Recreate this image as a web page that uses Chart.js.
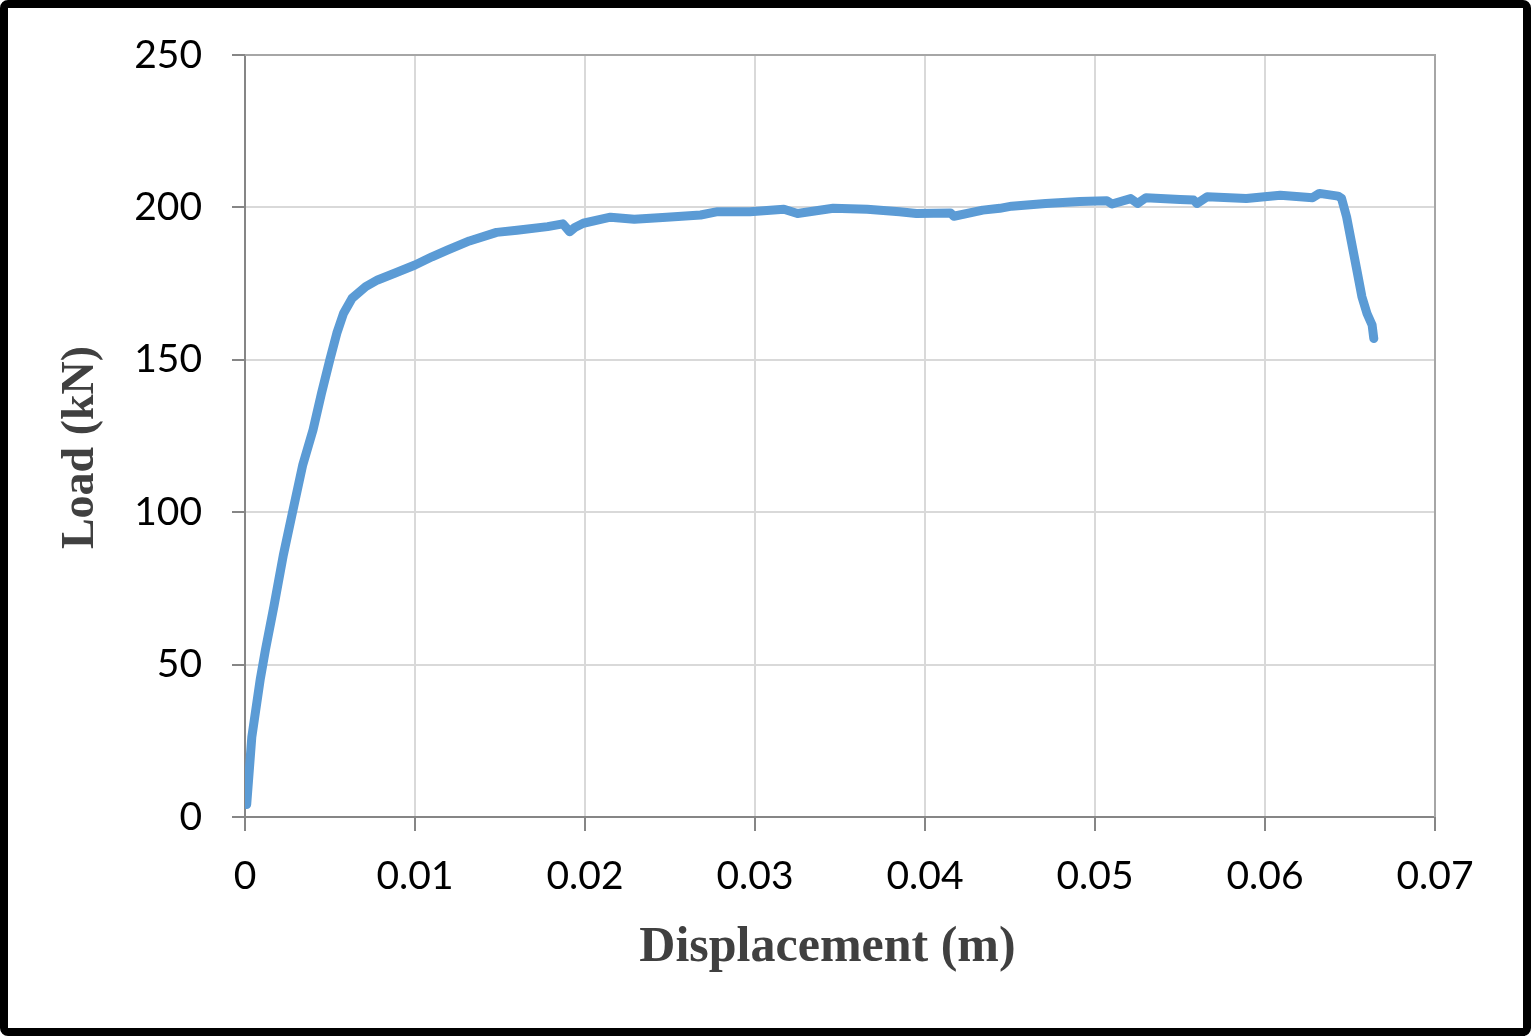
<!DOCTYPE html>
<html>
<head>
<meta charset="utf-8">
<script src="https://cdn.jsdelivr.net/npm/chart.js@4.4.1/dist/chart.umd.min.js"></script>
<style>
  html, body { margin: 0; padding: 0; background: #fff; }
  #myChart { position: absolute; left: 0; top: 0; display: block; }
  #frame {
    position: absolute; left: 0; top: 0;
    width: 1531px; height: 1036px;
    box-sizing: border-box;
    border: 8px solid #000;
    border-radius: 8px;
    pointer-events: none;
  }
</style>
</head>
<body>
<canvas id="myChart" width="1531" height="1036"></canvas>
<div id="frame"></div>
<script>
// displacement (m) and load (kN)
let displacement = [
  0.0001, 0.0004, 0.0009, 0.0012, 0.0017, 0.00225, 0.0028, 0.0034, 0.0040, 0.0045,
  0.0050, 0.0054, 0.0058, 0.0063, 0.0071, 0.0078, 0.0088, 0.0100, 0.0110, 0.0119,
  0.0132, 0.0148, 0.0160, 0.0178, 0.0187, 0.0191, 0.0194, 0.0199, 0.0215, 0.0229,
  0.0248, 0.0268, 0.0278, 0.0297, 0.0317, 0.0325, 0.0346, 0.0366, 0.0385, 0.0395,
  0.0415, 0.0417, 0.0434, 0.0444, 0.0451, 0.0471, 0.0491, 0.0507, 0.0510, 0.0521,
  0.0525, 0.0530, 0.0550, 0.0558, 0.0560, 0.0566, 0.0589, 0.0609, 0.0628, 0.0632,
  0.0643, 0.0645, 0.0648, 0.0651, 0.0654, 0.0657, 0.0660, 0.0663, 0.0664
]
let load = [
  4.1, 26.2, 45.3, 54.8, 69.1, 85.8, 100.1, 115.6, 127.0, 139.0,
  150.2, 158.7, 165.3, 170.2, 174.0, 176.2, 178.4, 181.1, 183.8, 186.0,
  189.0, 191.8, 192.5, 193.7, 194.6, 192.0, 193.4, 194.8, 196.8, 196.1,
  196.8, 197.5, 198.6, 198.6, 199.4, 198.0, 199.7, 199.4, 198.6, 198.0,
  198.2, 197.1, 199.1, 199.7, 200.4, 201.3, 201.9, 202.2, 201.1, 202.9,
  201.3, 203.2, 202.6, 202.4, 201.3, 203.5, 202.9, 204.0, 203.2, 204.6,
  203.7, 203.0, 196.9, 188.2, 179.5, 170.7, 165.2, 161.4, 157.0
]
let xTicks = [0, 0.01, 0.02, 0.03, 0.04, 0.05, 0.06, 0.07]
let yTicks = [0, 50, 100, 150, 200, 250]

let points = displacement.map((d, i) => ({ x: d, y: load[i] }))

// top and right edges of the plot box
let plotBorder = {
  id: 'plotBorder',
  beforeDatasetsDraw(chart) {
    let { ctx, chartArea: a } = chart
    ctx.save()
    ctx.strokeStyle = '#a6a6a6'
    ctx.lineWidth = 2
    ctx.beginPath()
    ctx.moveTo(a.left, a.top)
    ctx.lineTo(a.right, a.top)
    ctx.lineTo(a.right, a.bottom)
    ctx.stroke()
    ctx.restore()
  },
}

let ctx = document.getElementById('myChart').getContext('2d')
let myChart = new Chart(ctx, {
  type: 'line',
  data: {
    datasets: [
      {
        data: points,
        borderColor: '#5b9bd5',
        borderWidth: 9,
        pointRadius: 0,
        tension: 0,
        borderJoinStyle: 'round',
        borderCapStyle: 'round',
      },
    ],
  },
  options: {
    responsive: false,
    animation: false,
    devicePixelRatio: 1,
    layout: { padding: { top: 55, right: 96, left: 0, bottom: 0 } },
    plugins: {
      legend: { display: false },
      tooltip: { enabled: false },
    },
    scales: {
      x: {
        type: 'linear',
        min: 0,
        max: 0.07,
        afterFit: (s) => { s.height = 219 },
        afterBuildTicks: (s) => { s.ticks = xTicks.map((v) => ({ value: v })) },
        grid: { color: '#d9d9d9', lineWidth: 2, tickColor: '#868686', tickLength: 14, tickWidth: 2 },
        border: { color: '#868686', width: 2 },
        ticks: {
          color: '#000',
          padding: 22,
          maxRotation: 0,
          font: { family: 'Lato', size: 39 },
          callback: (v) => String(+v.toFixed(2)),
        },
        title: {
          display: true,
          text: 'Displacement (m)  ',
          color: '#404040',
          padding: { top: 0, bottom: 58 },
          font: { family: 'Liberation Serif', size: 50, weight: 'bold' },
        },
      },
      y: {
        min: 0,
        max: 250,
        afterFit: (s) => { s.width = 245 },
        afterBuildTicks: (s) => { s.ticks = yTicks.map((v) => ({ value: v })) },
        grid: { color: '#d9d9d9', lineWidth: 2, tickColor: '#868686', tickLength: 13, tickWidth: 2 },
        border: { color: '#868686', width: 2 },
        ticks: {
          color: '#000',
          padding: 30,
          font: { family: 'Lato', size: 39 },
        },
        title: {
          display: true,
          text: 'Load (kN)  ',
          color: '#404040',
          padding: { top: 54, bottom: 0 },
          font: { family: 'Liberation Serif', size: 46, weight: 'bold' },
        },
      },
    },
  },
  plugins: [plotBorder],
})
</script>
</body>
</html>
